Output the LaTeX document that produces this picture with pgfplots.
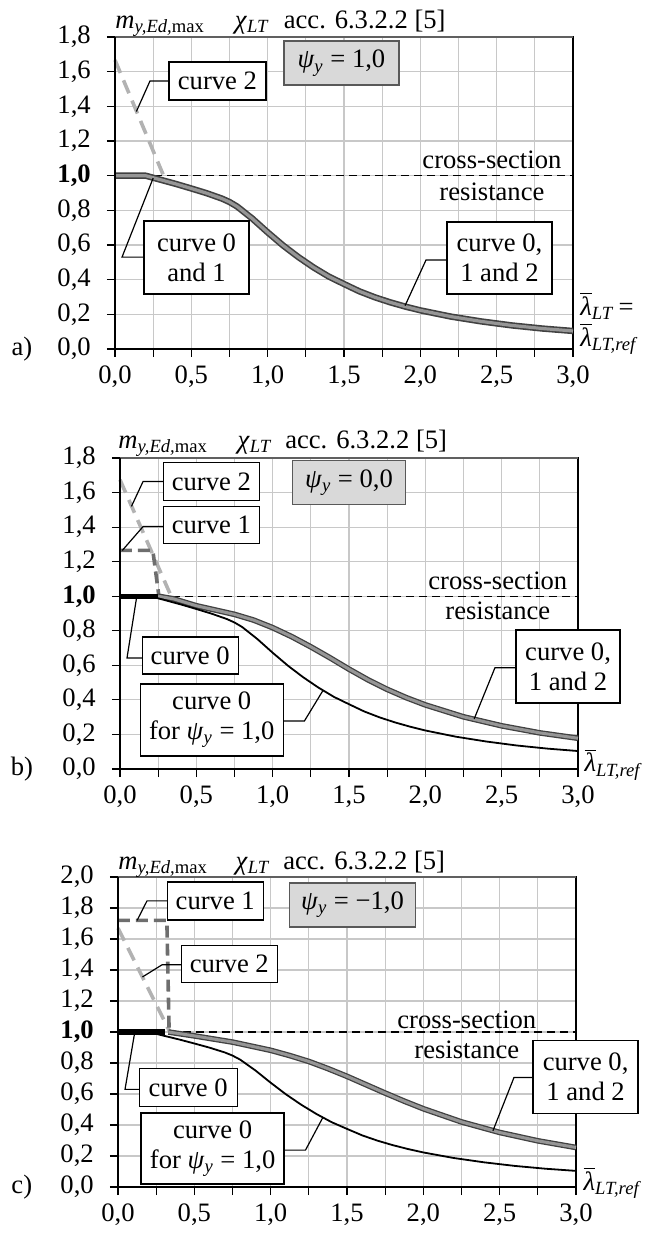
\documentclass[border=0pt]{standalone}
\usepackage{fontspec}
\setmainfont{Liberation Serif}
\usepackage{pgfplots}
\usepackage{pgfplotstable}
\pgfplotsset{compat=1.18}

\definecolor{gridc}{RGB}{200,200,200}
\definecolor{band}{RGB}{150,150,150}
\definecolor{bandedge}{RGB}{65,65,65}
\definecolor{ctwo}{RGB}{178,178,178}
\definecolor{cone}{RGB}{110,110,110}
\definecolor{psibox}{RGB}{217,217,217}

% chi_LT, curve 0 for psi_y = 1,0
\pgfplotstableread{
x y
0 1.0
0.2 1.0
0.3 0.976
0.4 0.952
0.5 0.926
0.6 0.899
0.7 0.868
0.75 0.848
0.8 0.822
0.9 0.752
1.0 0.673
1.1 0.598
1.2 0.531
1.3 0.471
1.4 0.418
1.5 0.375
1.6 0.333
1.7 0.299
1.8 0.270
1.9 0.245
2.0 0.223
2.2 0.187
2.4 0.159
2.6 0.136
2.8 0.118
3.0 0.104
}\curveA

% psi_y = 0,0 : curve 0, 1 and 2
\pgfplotstableread{
x y
0.25 1.0
0.35 0.985
0.5 0.945
0.625 0.920
0.75 0.895
0.875 0.862
1.0 0.818
1.125 0.766
1.25 0.707
1.375 0.644
1.5 0.578
1.625 0.516
1.75 0.461
1.875 0.413
2.0 0.371
2.25 0.302
2.5 0.250
2.75 0.209
3.0 0.178
}\curveB

% psi_y = -1,0 : curve 0, 1 and 2
\pgfplotstableread{
x y
0.33 1.0
0.5 0.975
0.75 0.935
1.0 0.882
1.125 0.848
1.25 0.810
1.375 0.764
1.5 0.714
1.625 0.660
1.75 0.606
1.875 0.554
2.0 0.505
2.25 0.420
2.5 0.352
2.75 0.298
3.0 0.255
}\curveC

\pgfplotsset{
  panel/.style={
    scale only axis, width=229pt,
    xmin=0, xmax=3, ymin=0,
    clip=false,
    tick pos=left, tick align=outside,
    major tick length=4pt, minor tick length=4pt,
    xtick={0,0.5,1,1.5,2,2.5,3},
    minor xtick={0.25,0.75,1.25,1.75,2.25,2.75},
    xticklabels={{0,0},{0,5},{1,0},{1,5},{2,0},{2,5},{3,0}},
    yticklabel style={xshift=-3.5pt},
    grid=both,
    major grid style={draw=gridc, line width=0.6pt},
    minor grid style={draw=gridc, line width=0.6pt},
    axis line style={black, line width=0.6pt},
    tick style={black, line width=0.6pt},
    every axis plot/.append style={line join=round},
  },
}
\tikzset{
  lbl/.style={draw=black, fill=white, line width=0.7pt, align=center, inner sep=1pt},
  psi/.style={draw=gray!70!black, fill=psibox, line width=0.7pt, inner sep=1pt},
  leader/.style={black, line width=0.6pt},
  txt/.style={anchor=base west, inner sep=0pt},
  txte/.style={anchor=base east, inner sep=0pt},
}

\newcommand{\lam}{$\overline{\mbox{\textit{λ}}}$}

\begin{document}
\fontsize{13.3}{15}\selectfont
\begin{tikzpicture}
\useasboundingbox (-57.5pt,18.5pt) rectangle (265pt,-599.5pt);

% ---------------- a) psi = 1,0
\begin{axis}[panel, at={(0pt,0pt)}, anchor=north west, height=156pt, ymax=1.8,
  ytick={0,0.2,0.4,0.6,0.8,1.0,1.2,1.4,1.6,1.8},
  yticklabels={{0,0},{0,2},{0,4},{0,6},{0,8},{\textbf{1,0}},{1,2},{1,4},{1,6},{1,8}}]
\addplot[black, line width=0.7pt, dash pattern=on 4pt off 2.5pt] coordinates {(0,1) (3,1)};
\addplot[ctwo, line width=1.8pt, dash pattern=on 7pt off 4pt] coordinates {(0,1.667) (0.33,0.975)};
\addplot[bandedge, line width=3.2pt] table {\curveA};
\addplot[band, line width=1.6pt] table {\curveA};
\draw[gray!75!black, line width=1pt] (rel axis cs:0,1) -- (rel axis cs:1,1);
\draw[black, line width=0.9pt] (rel axis cs:0,0) -- (rel axis cs:0,1);

\node[txt] at (axis cs:0,1.851) {\textit{m}\textsubscript{\textit{y,Ed,}max}};
\node[txte] at (axis cs:1.015,1.851) {\textit{χ}\textsubscript{\textit{LT}}};
\node[txte] at (axis cs:2.168,1.851) {acc. 6.3.2.2 [5]};
\node[psi, minimum width=57.5pt, minimum height=22pt] at (axis cs:1.483,1.649) {\textit{ψ}\textsubscript{\textit{y}} = 1,0};

\node[lbl, minimum width=48.5pt, minimum height=19pt] at (axis cs:0.671,1.546) {curve 2};
\draw[leader] (axis cs:0.354,1.546) -- (axis cs:0.229,1.546) -- (axis cs:0.14,1.37);

\node[anchor=base, inner sep=0pt] at (axis cs:2.469,1.044) {cross-section};
\node[anchor=base, inner sep=0pt] at (axis cs:2.469,0.859) {resistance};

\node[lbl, minimum width=52.5pt, minimum height=36.5pt] at (axis cs:0.534,0.528) {curve 0\\and 1};
\draw[leader] (axis cs:0.19,0.53) -- (axis cs:0.046,0.53) -- (axis cs:0.25,0.986);

\node[lbl, minimum width=52.5pt, minimum height=36pt] at (axis cs:2.518,0.525) {curve 0,\\1 and 2};
\draw[leader] (axis cs:2.174,0.513) -- (axis cs:2.037,0.513) -- (axis cs:1.9,0.25);

\node[txt] at (axis cs:3.045,0.196) {\lam\textsubscript{\textit{LT}}\,=};
\node[txt] at (axis cs:3.045,0.017) {\lam\textsubscript{\textit{LT,ref}}};
\node at (axis cs:-0.61,0) {a)};
\end{axis}

% ---------------- b) psi = 0,0
\begin{axis}[panel, at={(2.5pt,-210.5pt)}, anchor=north west, height=155.5pt, ymax=1.8,
  ytick={0,0.2,0.4,0.6,0.8,1.0,1.2,1.4,1.6,1.8},
  yticklabels={{0,0},{0,2},{0,4},{0,6},{0,8},{\textbf{1,0}},{1,2},{1,4},{1,6},{1,8}}]
\addplot[black, line width=0.7pt, dash pattern=on 4pt off 2.5pt] coordinates {(0,1) (3,1)};
\addplot[ctwo, line width=1.8pt, dash pattern=on 7pt off 4pt] coordinates {(0,1.674) (0.34,0.99)};
\addplot[cone, line width=1.8pt, dash pattern=on 6pt off 3pt] coordinates {(0,1.265) (0.215,1.265) (0.255,1.0)};
\addplot[bandedge, line width=2.8pt] table {\curveB};
\addplot[band, line width=1.5pt] table {\curveB};
\addplot[black, line width=0.9pt] table {\curveA};
\addplot[black, line width=2.6pt] coordinates {(0,1) (0.25,1)};
\draw[gray!75!black, line width=1pt] (rel axis cs:0,1) -- (rel axis cs:1,1);
\draw[black, line width=0.9pt] (rel axis cs:0,0) -- (rel axis cs:0,1);

\node[txt] at (axis cs:-0.013,1.855) {\textit{m}\textsubscript{\textit{y,Ed,}max}};
\node[txte] at (axis cs:1.0,1.855) {\textit{χ}\textsubscript{\textit{LT}}};
\node[txte] at (axis cs:2.145,1.855) {acc. 6.3.2.2 [5]};
\node[psi, minimum width=56.5pt, minimum height=22pt] at (axis cs:1.50,1.658) {\textit{ψ}\textsubscript{\textit{y}} = 0,0};

\node[lbl, minimum width=48pt, minimum height=19pt] at (axis cs:0.598,1.664) {curve 2};
\draw[leader] (axis cs:0.282,1.664) -- (axis cs:0.151,1.664) -- (axis cs:0.075,1.52);
\node[lbl, minimum width=48pt, minimum height=18.5pt] at (axis cs:0.598,1.412) {curve 1};
\draw[leader] (axis cs:0.282,1.403) -- (axis cs:0.151,1.403) -- (axis cs:0.015,1.265);

\node[anchor=base, inner sep=0pt] at (axis cs:2.475,1.038) {cross-section};
\node[anchor=base, inner sep=0pt] at (axis cs:2.475,0.864) {resistance};

\node[lbl, minimum width=48pt, minimum height=18.5pt] at (axis cs:0.46,0.658) {curve 0};
\draw[leader] (axis cs:0.144,0.643) -- (axis cs:0.046,0.643) -- (axis cs:0.11,1.0);

\node[lbl, minimum width=71.5pt, minimum height=36pt] at (axis cs:0.601,0.284) {curve 0\\for \textit{ψ}\textsubscript{\textit{y}} = 1,0};
\draw[leader] (axis cs:1.07,0.278) -- (axis cs:1.208,0.278) -- (axis cs:1.33,0.455);

\node[lbl, minimum width=52pt, minimum height=36.5pt] at (axis cs:2.935,0.594) {curve 0,\\1 and 2};
\draw[leader] (axis cs:2.594,0.586) -- (axis cs:2.456,0.586) -- (axis cs:2.32,0.29);

\node[txt] at (axis cs:3.04,-0.017) {\lam\textsubscript{\textit{LT,ref}}};
\node at (axis cs:-0.643,0) {b)};
\end{axis}

% ---------------- c) psi = -1,0
\begin{axis}[panel, at={(1.5pt,-420pt)}, anchor=north west, height=155pt, ymax=2.0,
  ytick={0,0.2,0.4,0.6,0.8,1.0,1.2,1.4,1.6,1.8,2.0},
  yticklabels={{0,0},{0,2},{0,4},{0,6},{0,8},{\textbf{1,0}},{1,2},{1,4},{1,6},{1,8},{2,0}}]
\addplot[black, line width=0.7pt, dash pattern=on 4pt off 2.5pt] coordinates {(0,1) (3,1)};
\addplot[ctwo, line width=1.8pt, dash pattern=on 7pt off 4pt] coordinates {(0,1.67) (0.34,1.0)};
\addplot[cone, line width=1.8pt, dash pattern=on 6pt off 3pt] coordinates {(0,1.72) (0.32,1.72) (0.335,1.0)};
\addplot[bandedge, line width=2.8pt] table {\curveC};
\addplot[band, line width=1.5pt] table {\curveC};
\addplot[black, line width=0.9pt] table {\curveA};
\addplot[black, line width=2.6pt] coordinates {(0,1) (0.31,1)};
\draw[gray!75!black, line width=1pt] (rel axis cs:0,1) -- (rel axis cs:1,1);
\draw[black, line width=0.9pt] (rel axis cs:0,0) -- (rel axis cs:0,1);

\node[txt] at (axis cs:0,2.05) {\textit{m}\textsubscript{\textit{y,Ed,}max}};
\node[txte] at (axis cs:1.0,2.05) {\textit{χ}\textsubscript{\textit{LT}}};
\node[txte] at (axis cs:2.145,2.05) {acc. 6.3.2.2 [5]};
\node[psi, minimum width=63pt, minimum height=22pt] at (axis cs:1.536,1.82) {\textit{ψ}\textsubscript{\textit{y}} = −1,0};

\node[lbl, minimum width=48pt, minimum height=19pt] at (axis cs:0.637,1.846) {curve 1};
\draw[leader] (axis cs:0.322,1.846) -- (axis cs:0.19,1.846) -- (axis cs:0.125,1.72);
\node[lbl, minimum width=48pt, minimum height=18.5pt] at (axis cs:0.729,1.437) {curve 2};
\draw[leader] (axis cs:0.414,1.434) -- (axis cs:0.289,1.434) -- (axis cs:0.16,1.355);

\node[anchor=base, inner sep=0pt] at (axis cs:2.285,1.022) {cross-section};
\node[anchor=base, inner sep=0pt] at (axis cs:2.285,0.83) {resistance};

\node[lbl, minimum width=52.5pt, minimum height=36.5pt] at (axis cs:3.063,0.711) {curve 0,\\1 and 2};
\draw[leader] (axis cs:2.718,0.707) -- (axis cs:2.594,0.707) -- (axis cs:2.456,0.363);

\node[lbl, minimum width=49pt, minimum height=19pt] at (axis cs:0.46,0.643) {curve 0};
\draw[leader] (axis cs:0.138,0.63) -- (axis cs:0.046,0.63) -- (axis cs:0.11,1.0);

\node[lbl, minimum width=71.5pt, minimum height=35.5pt] at (axis cs:0.62,0.248) {curve 0\\for \textit{ψ}\textsubscript{\textit{y}} = 1,0};
\draw[leader] (axis cs:1.09,0.238) -- (axis cs:1.228,0.238) -- (axis cs:1.34,0.445);

\node[txt] at (axis cs:3.047,-0.02) {\lam\textsubscript{\textit{LT,ref}}};
\node at (axis cs:-0.63,0) {c)};
\end{axis}
\end{tikzpicture}
\end{document}
